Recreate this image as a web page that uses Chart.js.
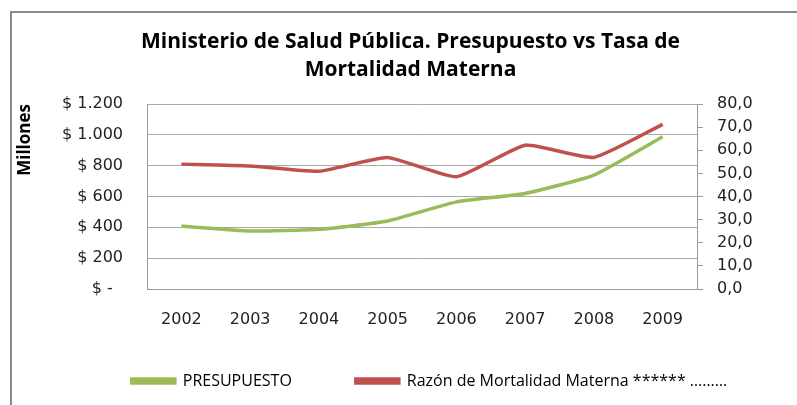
<!DOCTYPE html>
<html>
<head>
<meta charset="utf-8">
<script src="https://cdn.jsdelivr.net/npm/chart.js@4/dist/chart.umd.min.js"></script>
<style>
  html, body { margin: 0; padding: 0; background: #fff; }
  #wrap { position: relative; width: 797px; height: 405px; }
  #frame { position: absolute; left: 10px; top: 11px; right: 0; bottom: 0;
           border-left: 2px solid #8a8a8a; border-top: 2px solid #8a8a8a; }
  canvas { position: absolute; left: 0; top: 0; }
</style>
</head>
<body>
<div id="wrap">
  <div id="frame"></div>
  <canvas id="chart" width="797" height="405"></canvas>
</div>
<script>
var years = ['2002', '2003', '2004', '2005', '2006', '2007', '2008', '2009'];
var presupuesto = [408, 376, 387, 441, 565, 620, 739, 988];
var mortalidad = [54.0, 53.2, 50.9, 56.9, 48.5, 62.2, 56.9, 71.2];
var leftTicks = ['$ -  ', '$ 200', '$ 400', '$ 600', '$ 800', '$ 1.000', '$ 1.200'];
var rightTicks = ['0,0', '10,0', '20,0', '30,0', '40,0', '50,0', '60,0', '70,0', '80,0'];

var titleFont = "'Open Sans', sans-serif";
var tickFont = "'DejaVu Sans', sans-serif";
var legendShift = 31;
var legendY = 381;
var titleShift = 12;

// legend: wide gap between items but a short box, placed by hand
var placeBoxes = {
  id: 'placeBoxes',
  beforeLayout: function(chart) {
    var lg = chart.legend;
    if (lg && !lg._patched) {
      var fit = lg.fit;
      lg.fit = function() { fit.call(this); this.height = 40; };
      lg._patched = true;
    }
  },
  afterLayout: function(chart) {
    var lg = chart.legend;
    var pad = lg.options.labels.padding;
    var fs = lg.options.labels.font.size;
    lg.left += legendShift;
    lg.right += legendShift;
    lg.top = legendY - pad - fs / 2;
    lg.bottom = lg.top + pad * 2 + fs;
    lg.height = lg.bottom - lg.top;
    var tb = chart.titleBlock;
    tb.left += titleShift;
    tb.right += titleShift;
  }
};

var ctx = document.getElementById('chart').getContext('2d');

new Chart(ctx, {
  type: 'line',
  data: {
    labels: years,
    datasets: [
      {
        label: 'PRESUPUESTO',
        data: presupuesto,
        borderColor: '#9bbb59',
        backgroundColor: '#9bbb59',
        borderWidth: 3.5,
        pointRadius: 0,
        tension: 0.15,
        yAxisID: 'y'
      },
      {
        label: 'Razón de Mortalidad Materna ****** ………',
        data: mortalidad,
        borderColor: '#c0504d',
        backgroundColor: '#c0504d',
        borderWidth: 3.5,
        pointRadius: 0,
        tension: 0.15,
        yAxisID: 'y1'
      }
    ]
  },
  options: {
    responsive: false,
    animation: false,
    layout: { padding: { left: 0, right: 0, top: 0, bottom: 6 } },
    plugins: {
      title: {
        display: true,
        text: ['Ministerio de Salud Pública. Presupuesto vs Tasa de', 'Mortalidad Materna'],
        color: '#000',
        font: { family: titleFont, size: 21, weight: 'bold', lineHeight: 28 / 21 },
        padding: { top: 28, bottom: 20 }
      },
      legend: {
        position: 'bottom',
        labels: {
          color: '#000',
          font: { family: titleFont, size: 16 },
          boxWidth: 43,
          boxHeight: 4,
          padding: 64
        }
      },
      tooltip: { enabled: false }
    },
    scales: {
      x: {
        offset: true,
        grid: { display: false },
        border: { display: true, color: '#9a9a9a', width: 1 },
        ticks: { color: '#222', padding: 13, font: { family: tickFont, size: 16 } },
        afterFit: function(s) { s.height = 70; }
      },
      y: {
        position: 'left',
        min: 0,
        max: 1200,
        title: {
          display: true,
          text: 'Millones',
          align: 'end',
          color: '#000',
          font: { family: titleFont, size: 17, weight: 'bold' },
          padding: { top: 15, bottom: 0 }
        },
        grid: { color: '#a8a8a8', drawTicks: false },
        border: { display: true, color: '#9a9a9a' },
        ticks: {
          stepSize: 200,
          autoSkip: false,
          padding: 24,
          color: '#222',
          font: { family: tickFont, size: 16 },
          callback: function(v, i) { return leftTicks[i]; }
        },
        afterFit: function(s) { s.width = 147; }
      },
      y1: {
        position: 'right',
        min: 0,
        max: 80,
        grid: { drawOnChartArea: false, drawTicks: true, tickLength: 6, color: '#9a9a9a' },
        border: { display: true, color: '#9a9a9a' },
        ticks: {
          stepSize: 10,
          autoSkip: false,
          padding: 14,
          color: '#222',
          font: { family: tickFont, size: 16 },
          callback: function(v, i) { return rightTicks[i]; }
        },
        afterFit: function(s) { s.width = 100; }
      }
    }
  },
  plugins: [placeBoxes]
});
</script>
</body>
</html>
